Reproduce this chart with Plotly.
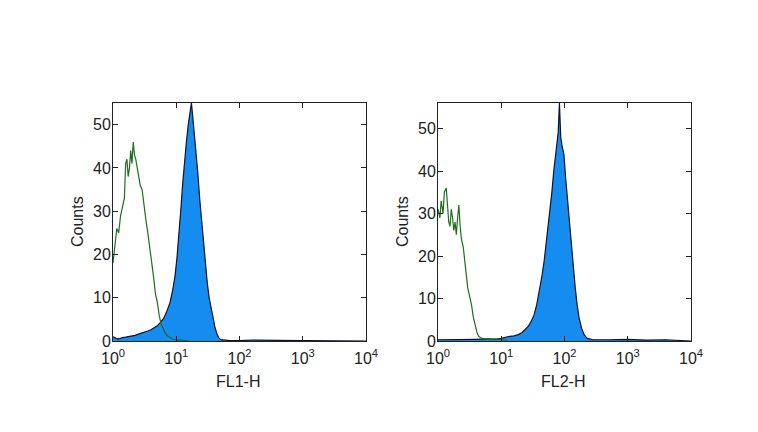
import numpy as np
import plotly.graph_objects as go

# ---- data (log10 of channel, counts) ----
fl1_iso_log = [0.00,0.03,0.06,0.09,0.12,0.15,0.18,0.20,0.22,0.24,0.26,0.28,0.30,0.32,0.34,0.36,0.38,0.40,0.43,0.46,0.49,0.52,0.55,0.58,0.61,0.64,0.67,0.70,0.73,0.76,0.79,0.82,0.86,0.90,0.95,1.00,1.10,1.20]
fl1_iso_cnt = [18,22,26,25,29,31,33,41,42,38,40,44,41,46,43,42,40,39,36,35,31,28,25,22,18,15,11,9,6,4,3,2,1.2,0.8,0.4,0.3,0.1,0]

fl1_ab_log = [0.00,0.05,0.10,0.15,0.20,0.25,0.30,0.35,0.40,0.45,0.50,0.55,0.60,0.65,0.70,0.75,0.80,0.85,0.90,0.94,0.98,1.01,1.04,1.07,1.10,1.13,1.16,1.19,1.22,1.24,1.26,1.28,1.31,1.34,1.37,1.40,1.43,1.46,1.49,1.52,1.55,1.58,1.61,1.64,1.67,1.70,1.75,1.85,2.00,2.20,3.00,4.00]
fl1_ab_cnt = [1.0,0.6,0.5,0.8,0.9,1.0,1.2,1.3,1.6,1.8,2.0,2.3,2.6,3.0,3.5,4.3,5.2,6.8,8.8,11.5,15,19,24,30,36,42,46,50,53,55,52,49,44,39,33,28,22,18,13.5,10,7.5,5,3.3,1.8,0.8,0.3,0.2,0.1,0.1,0.2,0.1,0]

fl2_iso_log = [0.00,0.03,0.05,0.08,0.10,0.13,0.15,0.17,0.19,0.21,0.23,0.25,0.27,0.29,0.31,0.33,0.35,0.37,0.40,0.42,0.44,0.47,0.50,0.53,0.56,0.59,0.62,0.65,0.70,0.80,0.90,1.00,1.10]
fl2_iso_cnt = [31,29,33,30,35,36,32,28,27,31,29,26,28,25,29,32,27,24,22,19,16,12.5,10.5,8.5,5.5,3.5,1.8,1.0,0.6,0.4,0.5,0.3,0.2]

fl2_ab_log = [0.00,0.30,0.60,0.80,0.90,1.00,1.10,1.20,1.27,1.33,1.38,1.43,1.48,1.52,1.56,1.60,1.64,1.68,1.71,1.74,1.77,1.80,1.83,1.86,1.88,1.90,1.92,1.94,1.96,1.99,2.02,2.05,2.08,2.11,2.14,2.17,2.20,2.23,2.27,2.31,2.36,2.45,2.70,3.00,3.30,3.60,4.00]
fl2_ab_cnt = [0.3,0.3,0.4,0.5,0.4,0.6,1.0,1.2,1.5,2.0,2.8,3.5,4.8,6.2,8.5,11.5,15,19,23,26,30,35,40,44,47,49,56,48,46,44,38,33,27,22,16.5,12.5,8.5,5.5,3,1.5,0.6,0.3,0.3,0.4,0.2,0.3,0]

x_tick_vals = [1, 10, 100, 1000, 10000]
x_tick_text = ["10<sup>0</sup>", "10<sup>1</sup>", "10<sup>2</sup>", "10<sup>3</sup>", "10<sup>4</sup>"]
y_tick_vals = [0, 10, 20, 30, 40, 50]
x_titles = ["FL1-H", "FL2-H"]
y_title = "Counts"

BLUE = "rgb(20,140,240)"
GREEN = "rgb(30,110,30)"
FONT = "Liberation Sans, Arial, sans-serif"

fig = go.Figure()

panels = [
    (fl1_iso_log, fl1_iso_cnt, fl1_ab_log, fl1_ab_cnt, "x", "y"),
    (fl2_iso_log, fl2_iso_cnt, fl2_ab_log, fl2_ab_cnt, "x2", "y2"),
]
for iso_l, iso_c, ab_l, ab_c, xa, ya in panels:
    fig.add_trace(go.Scatter(x=10 ** np.array(ab_l), y=ab_c, mode="lines",
                             fill="tozeroy", fillcolor=BLUE,
                             line=dict(color="rgb(10,20,40)", width=1.2),
                             xaxis=xa, yaxis=ya, showlegend=False))
    fig.add_trace(go.Scatter(x=10 ** np.array(iso_l), y=iso_c, mode="lines",
                             line=dict(color=GREEN, width=1.2),
                             xaxis=xa, yaxis=ya, showlegend=False))

axis_common = dict(showline=True, linecolor="#222", linewidth=1, mirror="ticks",
                   ticks="inside", ticklen=5, tickcolor="#222", showgrid=False,
                   zeroline=False, automargin=False,
                   tickfont=dict(family=FONT, size=16, color="#222"))

ydom = [1 - 341 / 432, 1 - 103 / 432]
fig.update_layout(
    width=758, height=432, margin=dict(l=0, r=0, t=0, b=0, autoexpand=False),
    paper_bgcolor="white", plot_bgcolor="white",
    xaxis=dict(type="log", range=[0, 4], domain=[113 / 758, 366 / 758], ticklabelstandoff=3,
               tickvals=x_tick_vals, ticktext=x_tick_text, anchor="y", **axis_common),
    yaxis=dict(range=[0, 55], domain=ydom, tickvals=y_tick_vals, anchor="x",
               ticklabelstandoff=-2, **axis_common),
    xaxis2=dict(type="log", range=[0, 4], domain=[438 / 758, 691 / 758], ticklabelstandoff=3,
                tickvals=x_tick_vals, ticktext=x_tick_text, anchor="y2", **axis_common),
    yaxis2=dict(range=[0, 56], domain=ydom, tickvals=y_tick_vals, anchor="x2",
                ticklabelstandoff=-2, **axis_common),
)

for i, left in enumerate([113, 438]):
    fig.add_annotation(text=x_titles[i], x=(left + 125) / 758, y=1 - 381 / 432,
                       xref="paper", yref="paper", showarrow=False,
                       xanchor="center", yanchor="middle",
                       font=dict(family=FONT, size=16, color="#222"))
    fig.add_annotation(text=y_title, x=(left - 35) / 758, y=1 - 222 / 432,
                       xref="paper", yref="paper", showarrow=False, textangle=-90,
                       xanchor="center", yanchor="middle",
                       font=dict(family=FONT, size=16, color="#222"))

fig.write_html("out.html")
